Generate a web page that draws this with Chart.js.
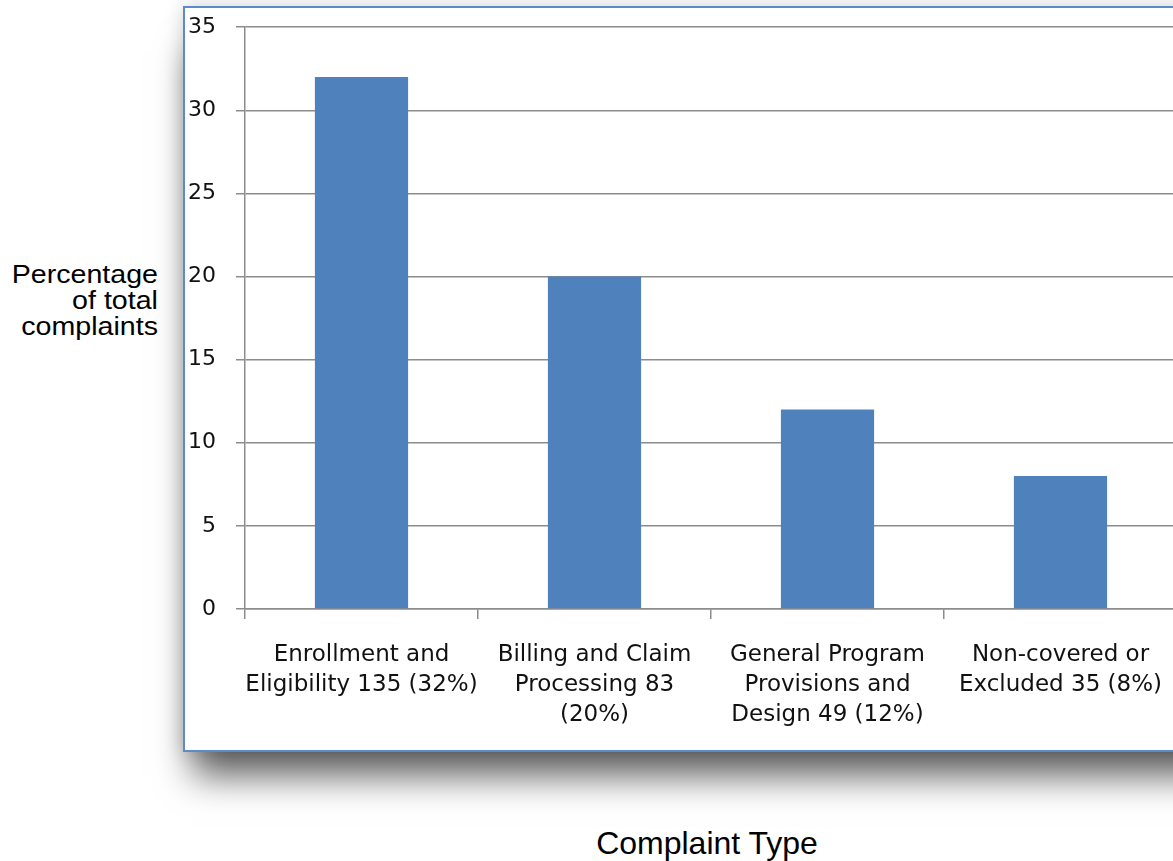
<!DOCTYPE html>
<html>
<head>
<meta charset="utf-8">
<script src="https://cdn.jsdelivr.net/npm/chart.js@4/dist/chart.umd.min.js"></script>
<style>
  html, body { margin: 0; padding: 0; background: #ffffff; overflow: hidden; width: 1173px; height: 861px; }
  #frame {
    position: absolute; left: 183px; top: 6px; width: 1100px; height: 746px;
    box-sizing: border-box; border: 2px solid #5b8cc9; background: #ffffff;
    box-shadow: 0 34px 34px -10px rgba(0,0,0,0.62), 0 0 18px rgba(0,0,0,0.18);
  }
  #wrap { position: absolute; left: 185px; top: -6px; width: 1000px; height: 757px; }
  #ytitle {
    position: absolute; right: 1015px; top: 261px; text-align: right;
    font-family: "Liberation Sans", Arial, sans-serif; font-size: 26px; line-height: 26px; color: #000;
    transform: scaleX(1.1); transform-origin: right center; white-space: nowrap;
  }
  #xtitle {
    position: absolute; left: 507px; width: 400px; top: 827px; text-align: center;
    font-family: "Liberation Sans", Arial, sans-serif; font-size: 32px; line-height: 32px; color: #000;
    white-space: nowrap;
  }
</style>
</head>
<body>
<div id="frame"></div>
<div id="wrap"><canvas id="c"></canvas></div>
<div id="ytitle">Percentage<br>of total<br>complaints</div>
<div id="xtitle">Complaint Type</div>
<script>
const categories = [
  ["Enrollment and", "Eligibility 135 (32%)"],
  ["Billing and Claim", "Processing 83", "(20%)"],
  ["General Program", "Provisions and", "Design 49 (12%)"],
  ["Non-covered or", "Excluded 35 (8%)"]
];
const percentages = [32, 20, 12, 8];
const yMin = 0;
const yMax = 35;
const yStep = 5;

const gridColor = '#8c8c8c';

new Chart(document.getElementById('c'), {
  type: 'bar',
  data: {
    labels: categories,
    datasets: [{
      data: percentages,
      backgroundColor: '#4f81bd',
      borderWidth: 0,
      barPercentage: 0.4,
      categoryPercentage: 1.0
    }]
  },
  options: {
    responsive: true,
    maintainAspectRatio: false,
    animation: false,
    layout: { padding: { left: 0, top: 0, right: 8, bottom: 0 } },
    plugins: { legend: { display: false }, tooltip: { enabled: false }, title: { display: false } },
    scales: {
      x: {
        afterFit: (s) => { s.height = 142; },
        grid: { drawOnChartArea: false, drawTicks: true, tickLength: 10, color: gridColor, lineWidth: 1.5 },
        border: { display: true, color: gridColor, width: 1.5 },
        ticks: {
          color: '#111', padding: 21, maxRotation: 0, autoSkip: false,
          font: { family: 'DejaVu Sans', size: 23, lineHeight: 1.3 }
        }
      },
      y: {
        min: yMin, max: yMax,
        afterFit: (s) => { s.width = 60; },
        grid: { color: gridColor, lineWidth: 1.5, tickLength: 9, drawTicks: true },
        border: { display: true, color: gridColor, width: 1.5 },
        ticks: {
          stepSize: yStep, color: '#111', padding: 20,
          font: { family: 'DejaVu Sans', size: 22 }
        }
      }
    }
  }
});
</script>
</body>
</html>
